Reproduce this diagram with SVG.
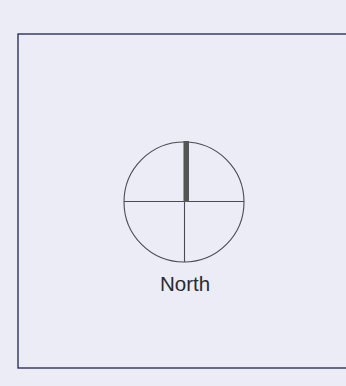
<svg xmlns="http://www.w3.org/2000/svg" width="346" height="386" viewBox="0 0 346 386">
<style>
.frame{fill:none;stroke:#22224e;stroke-width:1.3}
.thin{fill:none;stroke:#4a4a55;stroke-width:1.1}
.lbl{font-family:"Liberation Sans",Arial,sans-serif;font-size:20.5px;fill:#2a2a33}
</style>
<rect width="346" height="386" fill="#ececf7"/>
<rect class="frame" x="18" y="34" width="340" height="334"/>
<g id="compass">
<circle class="thin" cx="184" cy="202" r="60"/>
<line class="thin" x1="124" y1="201.5" x2="244" y2="201.5"/>
<line class="thin" x1="184.5" y1="142" x2="184.5" y2="262"/>
<rect x="183.5" y="141" width="5.5" height="61" fill="#555"/>
<text class="lbl" x="185" y="291" text-anchor="middle">North</text>
</g>
</svg>
